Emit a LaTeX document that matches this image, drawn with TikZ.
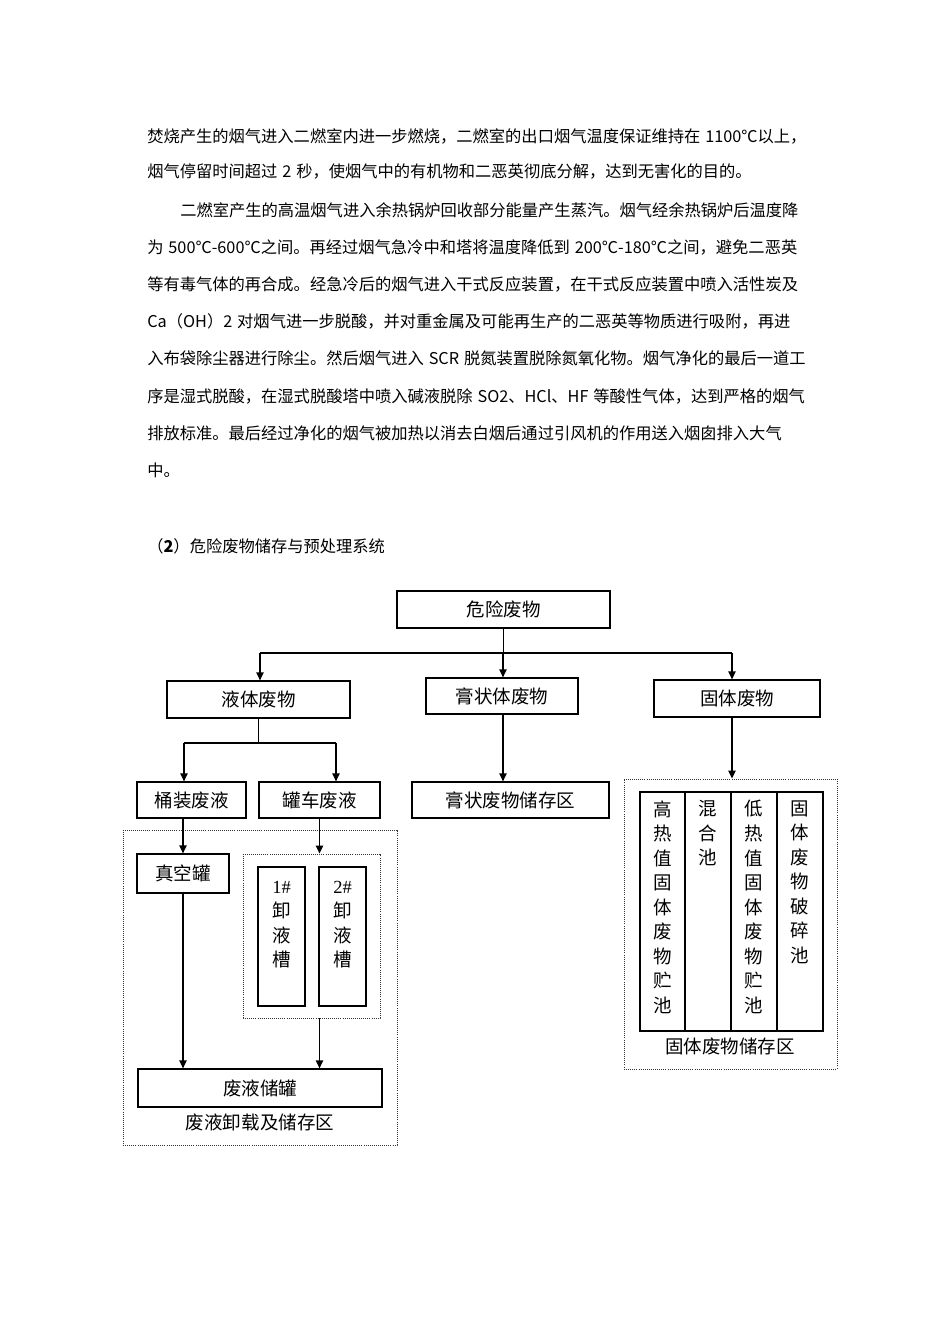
\documentclass[tikz,border=0pt]{standalone}
\usepackage{fontspec}
\setmainfont{Noto Sans CJK SC}
\newfontfamily\numserif{Liberation Serif}
\usetikzlibrary{arrows.meta,positioning}
\XeTeXlinebreaklocale "zh"
\XeTeXlinebreakskip=0pt plus 3pt minus 0.3pt
\newcommand{\pxu}{0.627pt}
\newcommand{\ks}{\kern0.3em}
\newcommand{\fullline}[2][412.6pt]{\makebox[#1][s]{#2}}
\tikzset{
  sz/.style 2 args={minimum width=#1*\pxu, minimum height=#2*\pxu},
  body/.style={anchor=west, inner sep=0pt, font=\fontsize{10.2pt}{12pt}\selectfont},
  box/.style={draw, line width=0.8pt, inner sep=0pt, font=\fontsize{11.6pt}{14pt}\selectfont},
  zone/.style={draw=black!80, line width=0.6pt, dash pattern=on 0.6pt off 0.7pt, inner sep=0pt},
  vtxt/.style={inner sep=0pt, align=center, font=\fontsize{11.6pt}{15.4pt}\selectfont},
  zlab/.style={inner sep=0pt, font=\fontsize{11.6pt}{14pt}\selectfont},
  link/.style={line width=0.8pt},
  arr/.style={line width=0.8pt, -{Triangle[length=5pt,width=4.6pt]}}
}

\begin{document}
\begin{tikzpicture}[x=0.627pt, y=-0.627pt]
  \useasboundingbox (0,0) rectangle (950,1344);
  \fill[white] (0,0) rectangle (950,1344);
  % body text
  \node[body] (l1) at (147,136) {\fullline{焚烧产生的烟气进入二燃室内进一步燃烧，二燃室的出口烟气温度保证维持在\ks 1100℃以上，}};
  \node[body] (l2) at (147,171) {烟气停留时间超过\ks 2\ks 秒，使烟气中的有机物和二恶英彻底分解，达到无害化的目的。};
  \node[body] (l3) at (180,210) {\fullline[392.1pt]{二燃室产生的高温烟气进入余热锅炉回收部分能量产生蒸汽。烟气经余热锅炉后温度降}};
  \node[body] (l4) at (147,247) {\fullline{为\ks 500℃-600℃之间。再经过烟气急冷中和塔将温度降低到\ks 200℃-180℃之间，避免二恶英}};
  \node[body] (l5) at (147,284) {\fullline{等有毒气体的再合成。经急冷后的烟气进入干式反应装置，在干式反应装置中喷入活性炭及}};
  \node[body] (l6) at (147,321) {\fullline{Ca（OH）2\ks 对烟气进一步脱酸，并对重金属及可能再生产的二恶英等物质进行吸附，再进}};
  \node[body] (l7) at (147,358) {\fullline{入布袋除尘器进行除尘。然后烟气进入\ks SCR\ks 脱氮装置脱除氮氧化物。烟气净化的最后一道工}};
  \node[body] (l8) at (147,396) {\fullline{序是湿式脱酸，在湿式脱酸塔中喷入碱液脱除\ks SO2、HCl、HF\ks 等酸性气体，达到严格的烟气}};
  \node[body] (l9) at (147,433) {\fullline{排放标准。最后经过净化的烟气被加热以消去白烟后通过引风机的作用送入烟囱排入大气}};
  \node[body] (l10) at (147,470) {中。};
  \node[body] (sec) at (147,546) {（\textbf{2}）危险废物储存与预处理系统};

  % top level
  \node[box, sz={213}{37}] (haz) at (503.5,609.5) {危险废物};
  \node[box, sz={183}{37}] (liq) at (258.5,699.5) {液体废物};
  \node[box, sz={152}{36}] (paste) at (502,696) {膏状体废物};
  \node[box, sz={166}{37}] (solid) at (737,698.5) {固体废物};
  \coordinate (bus) at (503,653);
  \coordinate (busL) at (260,653);
  \coordinate (busR) at (732,653);
  \draw[link] (haz.south) -- (haz.south |- bus);
  \draw[link] (busL) -- (busR);
  \draw[arr] (busL) -- (busL |- liq.north);
  \draw[arr] (bus) -- (bus |- paste.north);
  \draw[arr] (busR) -- (busR |- solid.north);

  % liquid waste
  \node[box, sz={109}{36}] (drum) at (191.5,800) {桶装废液};
  \node[box, sz={121}{36}] (tanker) at (319.5,800) {罐车废液};
  \coordinate (lsL) at (184,743);
  \coordinate (lsR) at (336,743);
  \draw[link] (liq.south) -- (liq.south |- lsL);
  \draw[link] (lsL) -- (lsR);
  \draw[arr] (lsL) -- (lsL |- drum.north);
  \draw[arr] (lsR) -- (lsR |- tanker.north);

  \node[zone, sz={274}{315}] (lzone) at (260,987.5) {};
  \node[box, sz={92}{39}] (vac) at (183,873.5) {真空罐};
  \node[zone, sz={137}{164}] (slots) at (311.5,936) {};
  \node[box, sz={47}{139}] (slot1) at (281.5,936.5) {};
  \node[box, sz={47}{139}] (slot2) at (342.5,936.5) {};
  \node[vtxt, below=9pt of slot1.north] (t1) {{\numserif 1\#}\\卸\\液\\槽};
  \node[vtxt, below=9pt of slot2.north] (t2) {{\numserif 2\#}\\卸\\液\\槽};
  \node[box, sz={244}{38}] (store) at (260,1088) {废液储罐};
  \node[zlab] (lzlab) at (260,1122) {废液卸载及储存区};
  \draw[arr] (vac.north |- drum.south) -- (vac.north);
  \draw[arr] (tanker.south) -- (tanker.south |- slots.north);
  \draw[arr] (vac.south) -- (vac.south |- store.north);
  \draw[arr] (slots.south -| tanker) -- (store.north -| tanker);

  % paste waste
  \node[box, sz={197}{36}] (pstore) at (510.5,800) {膏状废物储存区};
  \draw[arr] (bus |- paste.south) -- (bus |- pstore.north);

  % solid waste
  \node[zone, sz={213}{290}] (szone) at (730.5,924) {};
  \draw[arr] (busR |- solid.south) -- (busR |- szone.north);
  \node[box, sz={45}{239}] (c1) at (662.5,911.5) {};
  \node[box, sz={46}{239}] (c2) at (708,911.5) {};
  \node[box, sz={46}{239}] (c3) at (754,911.5) {};
  \node[box, sz={46}{239}] (c4) at (800,911.5) {};
  \draw[line width=0.95pt] (c1.north west) rectangle (c4.south east);
  \node[vtxt, below=5.5pt of c1.north] (s1) {高\\热\\值\\固\\体\\废\\物\\贮\\池};
  \node[vtxt, below=5.5pt of c2.north] (s2) {混\\合\\池};
  \node[vtxt, below=5.5pt of c3.north] (s3) {低\\热\\值\\固\\体\\废\\物\\贮\\池};
  \node[vtxt, below=5.5pt of c4.north] (s4) {固\\体\\废\\物\\破\\碎\\池};
  \node[zlab] (szlab) at (730,1046) {固体废物储存区};
\end{tikzpicture}
\end{document}
